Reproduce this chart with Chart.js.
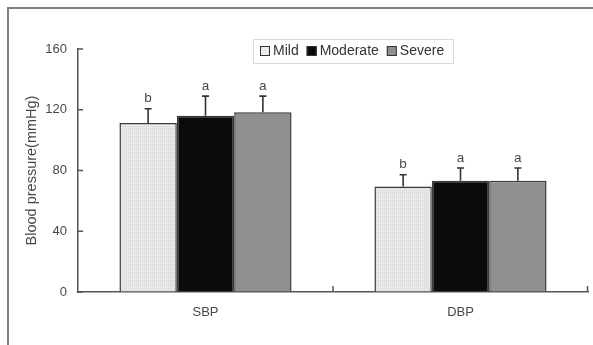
<!DOCTYPE html>
<html>
<head>
<meta charset="utf-8">
<script src="https://cdn.jsdelivr.net/npm/chart.js@4"></script>
<style>
  html, body { margin: 0; padding: 0; background: #fff; overflow: hidden; }
  #wrap { position: relative; width: 593px; height: 345px; }
</style>
</head>
<body>
<div id="wrap"><canvas id="c" width="593" height="345"></canvas></div>
<script>
// ---- data ----
const categories = ['SBP', 'DBP'];
const seriesNames = ['Mild', 'Moderate', 'Severe'];
const mild = [111.3, 69.5];
const moderate = [116.1, 73.3];
const severe = [118.3, 73.3];
const mildErr = [9.4, 7.7];
const moderateErr = [12.9, 8.3];
const severeErr = [10.7, 8.3];
const mildSig = ['b', 'b'];
const moderateSig = ['a', 'a'];
const severeSig = ['a', 'a'];
const yTicks = [0, 40, 80, 120, 160];
const yTitle = 'Blood pressure(mmHg)';

// ---- styles ----
const FONT = '"Liberation Sans", Arial, sans-serif';
const TXT = '#484848';

function mildPattern() {
  const p = document.createElement('canvas');
  p.width = 2; p.height = 2;
  const g = p.getContext('2d');
  g.fillStyle = '#e9e9e9'; g.fillRect(0, 0, 2, 2);
  g.fillStyle = '#d6d6d6'; g.fillRect(0, 0, 1, 1);
  return document.getElementById('c').getContext('2d').createPattern(p, 'repeat');
}

const fills = [mildPattern(), '#0b0b0b', '#8f8f8f'];
const legendFills = ['#ececec', '#0b0b0b', '#8f8f8f'];
const values = [mild, moderate, severe];
const errs = [mildErr, moderateErr, severeErr];
const sigs = [mildSig, moderateSig, severeSig];

const datasets = seriesNames.map((n, i) => ({
  label: n,
  data: values[i],
  backgroundColor: fills[i],
  borderColor: '#3a3a3a',
  borderWidth: 1.5,
  borderSkipped: 'bottom',
  categoryPercentage: 0.675,
  barPercentage: 1.0,
  errs: errs[i],
  sigs: sigs[i]
}));

const extras = {
  id: 'extras',
  beforeDraw(chart) {
    const c = chart.ctx;
    c.save();
    c.strokeStyle = '#808080';
    c.lineWidth = 2;
    c.beginPath();
    c.moveTo(8, 345); c.lineTo(8, 8); c.lineTo(593, 8);
    c.stroke();
    c.restore();
  },
  afterDatasetsDraw(chart) {
    const c = chart.ctx;
    const ys = chart.scales.y;
    c.save();
    chart.data.datasets.forEach((ds, di) => {
      const meta = chart.getDatasetMeta(di);
      meta.data.forEach((el, i) => {
        const top = ys.getPixelForValue(ds.data[i] + ds.errs[i]);
        c.strokeStyle = '#333';
        c.lineWidth = 1.6;
        c.beginPath();
        c.moveTo(el.x, el.y);
        c.lineTo(el.x, top);
        c.moveTo(el.x - 3.5, top);
        c.lineTo(el.x + 3.5, top);
        c.stroke();
        c.fillStyle = TXT;
        c.font = '13.5px ' + FONT;
        c.textAlign = 'center';
        c.textBaseline = 'middle';
        c.fillText(ds.sigs[i], el.x, top - 10);
      });
    });
    // inward ticks
    const xs = chart.scales.x;
    c.strokeStyle = '#555';
    c.lineWidth = 1.5;
    c.beginPath();
    ys.ticks.forEach(t => {
      const py = ys.getPixelForValue(t.value);
      c.moveTo(ys.right, py); c.lineTo(ys.right + 5, py);
    });
    const b1 = (xs.getPixelForValue(0) + xs.getPixelForValue(1)) / 2;
    [b1, xs.right - 0.5].forEach(px => {
      c.moveTo(px, xs.top); c.lineTo(px, xs.top - 6);
    });
    c.stroke();
    c.restore();
  },
  afterDraw(chart) {
    const c = chart.ctx;
    c.save();
    c.strokeStyle = '#dadada';
    c.lineWidth = 1;
    c.strokeRect(253.5, 39.5, 200, 24);
    c.font = '14px ' + FONT;
    c.textBaseline = 'middle';
    c.textAlign = 'left';
    let x = 260;
    chart.data.datasets.forEach((ds, i) => {
      c.fillStyle = legendFills[i];
      c.fillRect(x, 46, 10, 10);
      c.strokeStyle = '#333';
      c.lineWidth = 1;
      c.strokeRect(x + 0.5, 46.5, 9, 9);
      c.fillStyle = '#333';
      c.fillText(ds.label, x + 13, 51.5);
      x += 13 + c.measureText(ds.label).width + 8;
    });
    c.restore();
  }
};

new Chart(document.getElementById('c'), {
  type: 'bar',
  data: { labels: categories, datasets },
  options: {
    responsive: false,
    animation: false,
    devicePixelRatio: 1,
    layout: { padding: { left: 14, top: 49, right: 5, bottom: 0 } },
    plugins: { legend: { display: false }, tooltip: { enabled: false } },
    scales: {
      x: {
        grid: { display: true, drawOnChartArea: false, drawTicks: false },
        border: { color: '#555', width: 1.5 },
        ticks: { color: TXT, font: { family: FONT, size: 13 }, padding: 13 },
        afterFit(s) { s.height = 53; }
      },
      y: {
        min: 0, max: 160,
        afterBuildTicks(s) { s.ticks = yTicks.map(v => ({ value: v })); },
        grid: { display: true, drawOnChartArea: false, drawTicks: false },
        border: { color: '#555', width: 1.5 },
        ticks: { color: TXT, font: { family: FONT, size: 13 }, padding: 11 },
        title: { display: true, text: yTitle, color: TXT, font: { family: FONT, size: 14.5 }, padding: 9 },
        afterFit(s) { s.width = 64; }
      }
    }
  },
  plugins: [extras]
});
</script>
</body>
</html>
